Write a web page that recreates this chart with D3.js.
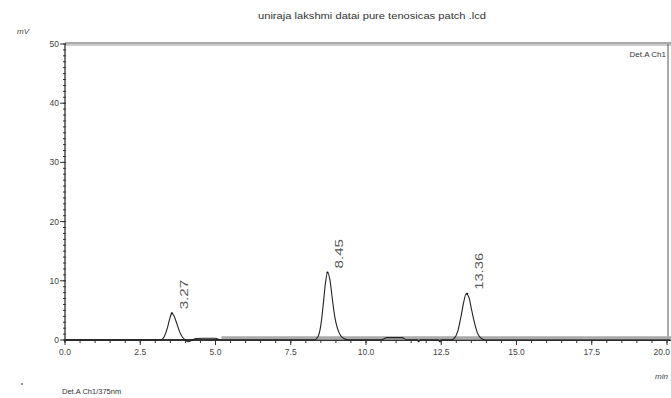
<!DOCTYPE html>
<html>
<head>
<meta charset="utf-8">
<script src="https://cdn.jsdelivr.net/npm/d3@7"></script>
<style>
  body { margin: 0; background: #fff; }
  svg { display: block; font-family: "Liberation Sans", Arial, sans-serif; }
</style>
</head>
<body>
<svg id="chart" width="671" height="398"></svg>
<script>
// chromatogram trace (min, mV)
const traceTime = [
  0.0, 1.0, 2.0, 2.5, 3.0, 3.2, 3.3, 3.4, 3.48, 3.55, 3.62, 3.7, 3.8, 3.9, 4.0, 4.08,
  4.2, 4.35, 4.6, 5.0, 5.15, 5.5, 6.5, 7.5, 8.3, 8.4, 8.5, 8.58, 8.65, 8.72, 8.8,
  8.88, 8.96, 9.05, 9.15, 9.25, 9.4, 9.8, 10.5, 10.7, 11.2, 11.35, 11.7, 11.75, 11.8,
  12.2, 12.4, 12.45, 12.5, 12.85, 12.95, 13.05, 13.15, 13.25, 13.33, 13.42, 13.5,
  13.6, 13.7, 13.8, 13.9, 14.0, 15.0, 16.0, 17.0, 17.5, 17.55, 18.0, 18.2, 18.4, 19.0, 20.1
];
const traceMv = [
  0.0, 0.0, 0.0, 0.0, 0.0, 0.05, 0.6, 2.0, 3.6, 4.5, 4.1, 3.0, 1.5, 0.5, 0.0, -0.3,
  -0.1, 0.25, 0.3, 0.3, 0.05, 0.05, 0.05, 0.05, 0.05, 0.5, 2.5, 6.0, 9.5, 11.4, 10.2,
  7.0, 4.0, 2.0, 0.8, 0.3, 0.05, 0.05, 0.05, 0.4, 0.4, 0.05, 0.05, -0.3, 0.05,
  0.05, 0.05, -0.3, 0.05, 0.05, 0.4, 1.5, 3.8, 6.5, 7.8, 7.2, 5.3,
  3.0, 1.2, 0.4, 0.1, 0.0, 0.0, 0.0, 0.0, 0.0, 0.0, 0.0, 0.0, 0.0, 0.0, 0.0
];
// lighter baseline band
const bandTime = [5.2, 20.2];
const bandMv = [0.35, 0.35];

const peakTimes = [3.55, 8.72, 13.36];
const peakHeights = [4.5, 11.4, 7.8];
const peakLabels = ["3.27", "8.45", "13.36"];

const xTicks = [0, 2.5, 5, 7.5, 10, 12.5, 15, 17.5, 20];
const yTicks = [0, 10, 20, 30, 40, 50];

const titleText = "uniraja lakshmi datai  pure tenosicas patch .lcd";
const detectorText = "Det.A Ch1";
const footerText = "Det.A Ch1/375nm";

const svg = d3.select("#chart");
const mLeft = 65, mRight = 667, mTop = 44, mBottom = 340;

const x = d3.scaleLinear().domain([0, 20]).range([mLeft, mRight]);
const y = d3.scaleLinear().domain([0, 50]).range([mBottom, mTop]);

const ink = "#333";
const textCol = "#444";

// frame: top double line, right edge
svg.append("line").attr("x1", mLeft).attr("x2", 671).attr("y1", mTop - 1).attr("y2", mTop - 1)
  .attr("stroke", "#555").attr("stroke-width", 1);
svg.append("line").attr("x1", mLeft).attr("x2", 671).attr("y1", mTop + 1).attr("y2", mTop + 1)
  .attr("stroke", "#999").attr("stroke-width", 1);
svg.append("line").attr("x1", x(20) + 1).attr("x2", x(20) + 1).attr("y1", mTop).attr("y2", mBottom)
  .attr("stroke", "#555").attr("stroke-width", 1);

// y axis
const yAxis = svg.append("g").attr("transform", `translate(${mLeft},0)`);
yAxis.append("line").attr("x1", 0).attr("x2", 0).attr("y1", mTop).attr("y2", mBottom + 2)
  .attr("stroke", ink).attr("stroke-width", 1.3);
yAxis.selectAll("line.minor").data(d3.range(0, 51, 1)).enter().append("line")
  .attr("class", "minor")
  .attr("x1", -2).attr("x2", 1).attr("y1", d => y(d)).attr("y2", d => y(d))
  .attr("stroke", ink).attr("stroke-width", 1);
yAxis.selectAll("line.major").data(yTicks).enter().append("line")
  .attr("class", "major")
  .attr("x1", -5).attr("x2", 1).attr("y1", d => y(d)).attr("y2", d => y(d))
  .attr("stroke", ink).attr("stroke-width", 1);
yAxis.selectAll("text").data(yTicks).enter().append("text")
  .attr("x", -6).attr("y", d => y(d) + 3)
  .attr("text-anchor", "end").attr("font-size", 8.5).attr("fill", textCol)
  .text(d => d);

// x axis
const xAxis = svg.append("g").attr("transform", `translate(0,${mBottom})`);
xAxis.append("line").attr("x1", mLeft).attr("x2", 671).attr("y1", 0).attr("y2", 0)
  .attr("stroke", ink).attr("stroke-width", 2);
xAxis.selectAll("line.minor").data(d3.range(0, 20.01, 0.5)).enter().append("line")
  .attr("class", "minor")
  .attr("x1", d => x(d)).attr("x2", d => x(d)).attr("y1", -1).attr("y2", 3)
  .attr("stroke", ink).attr("stroke-width", 1);
xAxis.selectAll("line.major").data(xTicks).enter().append("line")
  .attr("class", "major")
  .attr("x1", d => x(d)).attr("x2", d => x(d)).attr("y1", -1).attr("y2", 5)
  .attr("stroke", ink).attr("stroke-width", 1);
// last label sits against the page edge, so right-align it there
xAxis.selectAll("text").data(xTicks).enter().append("text")
  .attr("x", d => d === 20 ? 670 : x(d)).attr("y", 15)
  .attr("text-anchor", d => d === 20 ? "end" : "middle")
  .attr("font-size", 8.5).attr("fill", textCol)
  .text(d => d3.format(".1f")(d));

// baseline band
svg.append("path")
  .datum(d3.zip(bandTime, bandMv))
  .attr("d", d3.line().x(d => x(d[0])).y(d => y(d[1])))
  .attr("fill", "none").attr("stroke", "#aaa").attr("stroke-width", 3.5);

// trace
svg.append("path")
  .datum(d3.zip(traceTime, traceMv))
  .attr("d", d3.line().x(d => x(d[0])).y(d => y(d[1])).curve(d3.curveMonotoneX))
  .attr("fill", "none").attr("stroke", "#222").attr("stroke-width", 1.1);

// peak apex dots and labels
const peaks = d3.zip(peakTimes, peakHeights, peakLabels);
svg.selectAll("circle.apex").data(peaks).enter().append("circle")
  .attr("class", "apex")
  .attr("cx", d => x(d[0])).attr("cy", d => y(d[1])).attr("r", 1.1).attr("fill", "#111");
svg.selectAll("text.peak").data(peaks).enter().append("text")
  .attr("class", "peak")
  .attr("transform", d => `translate(${x(d[0]) + 16},${y(d[1]) - 4}) rotate(-90)`)
  .attr("font-size", 10).attr("fill", "#555")
  .attr("textLength", d => d[2].length * 7.4).attr("lengthAdjust", "spacingAndGlyphs")
  .text(d => d[2]);

// texts
svg.append("text").attr("x", 258).attr("y", 19).attr("font-size", 9).attr("fill", "#333")
  .attr("textLength", 228).attr("lengthAdjust", "spacingAndGlyphs").text(titleText);
svg.append("text").attr("x", 17).attr("y", 34).attr("font-size", 8).attr("font-style", "italic")
  .attr("fill", "#444").text("mV");
svg.append("text").attr("x", 666).attr("y", 57).attr("text-anchor", "end").attr("font-size", 8)
  .attr("fill", "#333").text(detectorText);
svg.append("text").attr("x", 655).attr("y", 379).attr("font-size", 8).attr("font-style", "italic")
  .attr("fill", "#444").text("min");
svg.append("text").attr("x", 62).attr("y", 394).attr("font-size", 7.5).attr("fill", "#333")
  .text(footerText);
svg.append("circle").attr("cx", 22).attr("cy", 384).attr("r", 0.9).attr("fill", "#666");
</script>
</body>
</html>
